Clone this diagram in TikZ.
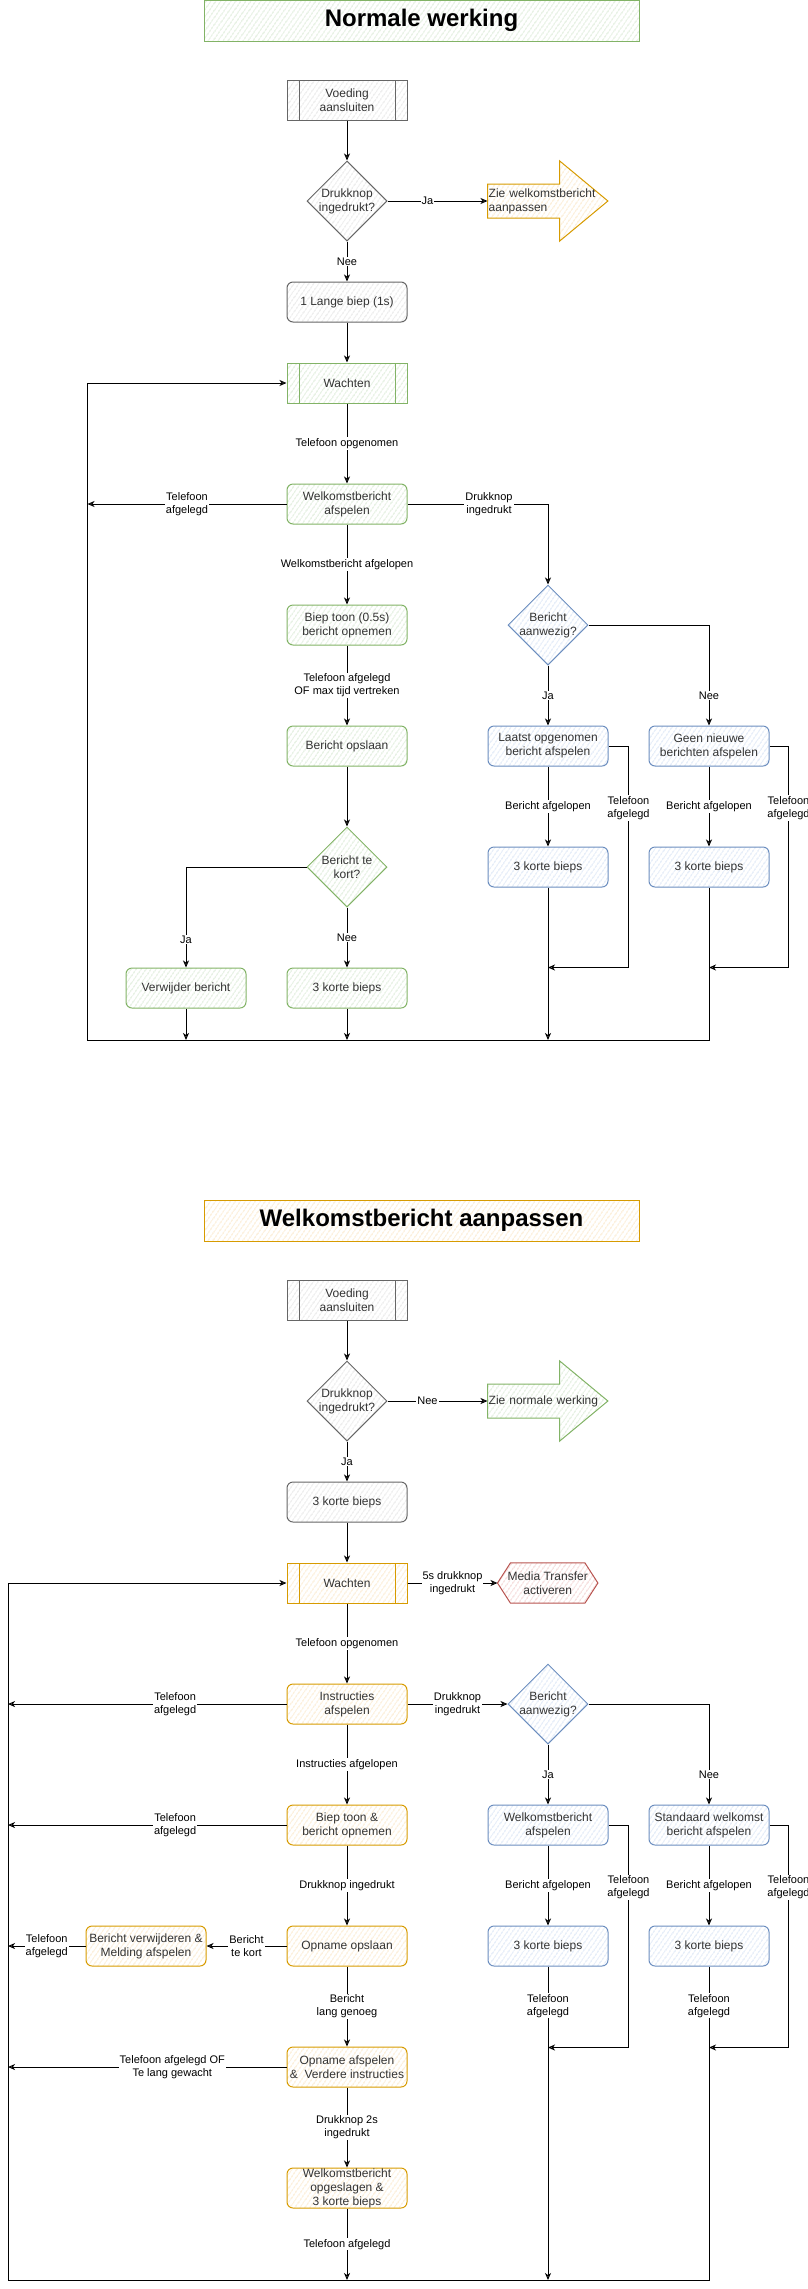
\documentclass[tikz,border=0pt]{standalone}
\usepackage{fontspec}
\setmainfont{Liberation Sans}
\usetikzlibrary{shapes.geometric,arrows.meta,positioning,calc,patterns.meta,backgrounds}

\definecolor{groenlijn}{HTML}{82B366}
\definecolor{groenvul}{HTML}{D5E8D4}
\definecolor{oranjelijn}{HTML}{D79B00}
\definecolor{oranjevul}{HTML}{FFE6CC}
\definecolor{blauwlijn}{HTML}{6C8EBF}
\definecolor{blauwvul}{HTML}{DAE8FC}
\definecolor{roodlijn}{HTML}{B85450}
\definecolor{roodvul}{HTML}{F8CECC}
\definecolor{grijslijn}{HTML}{666666}
\definecolor{grijsvul}{HTML}{E6E6E6}
\definecolor{grijstekst}{HTML}{333333}

\newcommand{\boxfont}{\fontsize{12}{14}\selectfont}
\newcommand{\labfont}{\fontsize{11}{13}\selectfont}
\newcommand{\titelfont}{\fontsize{24}{28}\selectfont\bfseries}

\begin{document}
\begin{tikzpicture}[x=1pt,y=1pt,
  blok/.style={rectangle,rounded corners=6pt,line width=1pt,minimum width=120pt,
               minimum height=40pt,align=center,font=\boxfont,inner sep=2pt,text=grijstekst},
  arcering/.style={pattern={Lines[angle=55,distance=4pt,line width=0.7pt]},pattern color=#1},
  groen/.style={blok,draw=groenlijn,arcering=groenvul!75!groenlijn},
  oranje/.style={blok,draw=oranjelijn,arcering=oranjevul!80!oranjelijn},
  blauw/.style={blok,draw=blauwlijn,arcering=blauwvul!75!blauwlijn},
  grijs/.style={blok,draw=grijslijn,arcering=grijsvul!85!grijslijn},
  proces/.style={sharp corners,path picture={
      \draw[#1,line width=1pt]
        ($(path picture bounding box.north west)+(12pt,0)$) -- ($(path picture bounding box.south west)+(12pt,0)$)
        ($(path picture bounding box.north east)+(-12pt,0)$) -- ($(path picture bounding box.south east)+(-12pt,0)$);}},
  beslis/.style={diamond,minimum width=80pt,minimum height=80pt,inner sep=-6pt,
                 line width=1pt,align=center,font=\boxfont,text=grijstekst},
  titel/.style={rectangle,line width=1pt,minimum width=435pt,minimum height=41pt,font=\titelfont},
  pijltekst/.style={rectangle,minimum width=120pt,minimum height=80pt,text width=118pt,
                    inner sep=1pt,align=left,font=\boxfont,text=grijstekst},
  zeshoek/.style={rectangle,minimum width=100pt,minimum height=40pt,inner sep=0pt,
                  align=center,font=\boxfont,text=grijstekst},
  pijl/.style={-{Stealth[open,length=7pt,width=6pt,inset=2pt]},line width=1pt},
  lab/.style={font=\labfont,fill=white,inner sep=1pt,align=center},
  node distance=40pt and 40pt
]
\useasboundingbox (0,0) rectangle (808,-2289);

% ---- Normale werking
\node[titel,draw=groenlijn,arcering=groenvul!75!groenlijn] (titel1) at (421.5,-20.5) {Normale werking};
\node[grijs,proces=grijslijn] (voed1) at (347,-100) {Voeding\\aansluiten};
\node[beslis,draw=grijslijn,arcering=grijsvul!85!grijslijn,below=of voed1] (knop1) {Drukknop\\ingedrukt?};
\node[pijltekst,right=100pt of knop1] (zie1) {Zie welkomstbericht\\aanpassen};
\node[grijs,below=of knop1] (lange1) {1 Lange biep (1s)};
\node[groen,proces=groenlijn,below=of lange1] (wacht1) {Wachten};
\node[groen,below=80pt of wacht1] (welk1) {Welkomstbericht\\afspelen};
\node[groen,below=80pt of welk1] (biep1) {Biep toon (0.5s)\\bericht opnemen};
\node[groen,below=80pt of biep1] (opsl1) {Bericht opslaan};
\node[beslis,draw=groenlijn,arcering=groenvul!75!groenlijn,below=60pt of opsl1] (kort1) {Bericht te\\kort?};
\node[groen,below=60pt of kort1] (drie1) {3 korte bieps};
\node[groen,left=40pt of drie1] (verw1) {Verwijder bericht};
\node[beslis,draw=blauwlijn,arcering=blauwvul!75!blauwlijn,right=100pt of biep1] (aanw1) {Bericht\\aanwezig?};
\node[blauw,below=60pt of aanw1] (laatst1) {Laatst opgenomen\\bericht afspelen};
\node[blauw,right=40pt of laatst1] (geen1) {Geen nieuwe\\berichten afspelen};
\node[blauw,below=80pt of laatst1] (drieb1) {3 korte bieps};
\node[blauw,below=80pt of geen1] (driec1) {3 korte bieps};

\begin{scope}[on background layer]
\draw[oranjelijn,line width=1pt,arcering=oranjevul!80!oranjelijn] ($(zie1.west)+(0,17)$) -- ($(zie1.west)+(72,17)$)
  -- ($(zie1.north west)+(72,0)$) -- (zie1.east) -- ($(zie1.south west)+(72,0)$)
  -- ($(zie1.west)+(72,-17)$) -- ($(zie1.west)+(0,-17)$) -- cycle;
\end{scope}

\coordinate (hoek1) at (87.5,-1040);
\coordinate (terug1a) at ($(drieb1.south)+(0,-80)$);
\coordinate (terug1b) at ($(driec1.south)+(0,-80)$);

\draw[pijl] (voed1) -- (knop1);
\draw[pijl] (knop1) -- node[lab,pos=0.4]{Ja} (zie1);
\draw[pijl] (knop1) -- node[lab]{Nee} (lange1);
\draw[pijl] (lange1) -- (wacht1);
\draw[pijl] (wacht1) -- node[lab]{Telefoon opgenomen} (welk1);
\draw[pijl] (welk1) -- node[lab]{Telefoon\\afgelegd} (welk1.west -| hoek1);
\draw[pijl] (welk1) -| node[lab,pos=0.29]{Drukknop\\ingedrukt} (aanw1);
\draw[pijl] (welk1) -- node[lab]{Welkomstbericht afgelopen} (biep1);
\draw[pijl] (biep1) -- node[lab]{Telefoon afgelegd\\OF max tijd vertreken} (opsl1);
\draw[pijl] (opsl1) -- (kort1);
\draw[pijl] (kort1) -| node[lab,pos=0.86]{Ja} (verw1);
\draw[pijl] (kort1) -- node[lab]{Nee} (drie1);
\draw[pijl] (aanw1) -- node[lab]{Ja} (laatst1);
\draw[pijl] (aanw1) -| node[lab,pos=0.85]{Nee} (geen1);
\draw[pijl] (laatst1) -- node[lab]{Bericht afgelopen} (drieb1);
\draw[pijl] (geen1) -- node[lab]{Bericht afgelopen} (driec1);
\draw[pijl] (laatst1.east) -- ++(20,0) |- node[lab,pos=0.14]{Telefoon\\afgelegd} (terug1a);
\draw[pijl] (geen1.east) -- ++(19,0) |- node[lab,pos=0.14]{Telefoon\\afgelegd} (terug1b);
\draw[pijl] (verw1) -- (verw1 |- hoek1);
\draw[pijl] (drie1) -- (drie1 |- hoek1);
\draw[pijl] (drieb1) -- (drieb1 |- hoek1);
\draw[pijl] (driec1) |- (hoek1) |- (wacht1);

% ---- Welkomstbericht aanpassen
\node[titel,draw=oranjelijn,arcering=oranjevul!80!oranjelijn] (titel2) at (421.5,-1220.5) {Welkomstbericht aanpassen};
\node[grijs,proces=grijslijn] (voed2) at (347,-1300) {Voeding\\aansluiten};
\node[beslis,draw=grijslijn,arcering=grijsvul!85!grijslijn,below=of voed2] (knop2) {Drukknop\\ingedrukt?};
\node[pijltekst,right=100pt of knop2] (zie2) {Zie normale werking};
\node[grijs,below=of knop2] (drie2) {3 korte bieps};
\node[oranje,proces=oranjelijn,below=of drie2] (wacht2) {Wachten};
\node[zeshoek,right=90pt of wacht2] (media) {Media Transfer\\activeren};
\node[oranje,below=80pt of wacht2] (instr) {Instructies\\afspelen};
\node[beslis,draw=blauwlijn,arcering=blauwvul!75!blauwlijn,right=100pt of instr] (aanw2) {Bericht\\aanwezig?};
\node[blauw,below=60pt of aanw2] (welkb2) {Welkomstbericht\\afspelen};
\node[blauw,right=40pt of welkb2] (stand2) {Standaard welkomst\\bericht afspelen};
\node[blauw,below=80pt of welkb2] (drieb2) {3 korte bieps};
\node[blauw,below=80pt of stand2] (driec2) {3 korte bieps};
\node[oranje,below=80pt of instr] (biep2) {Biep toon \&\\bericht opnemen};
\node[oranje,below=80pt of biep2] (opn2) {Opname opslaan};
\node[oranje,left=80pt of opn2] (verw2) {Bericht verwijderen \&\\Melding afspelen};
\node[oranje,below=80pt of opn2] (afsp2) {Opname afspelen\\\&\ \ Verdere instructies};
\node[oranje,inner ysep=-1pt,below=80pt of afsp2] (opg2) {Welkomstbericht\\opgeslagen \&\\3 korte bieps};

\begin{scope}[on background layer]
\draw[groenlijn,line width=1pt,arcering=groenvul!75!groenlijn] ($(zie2.west)+(0,17)$) -- ($(zie2.west)+(72,17)$)
  -- ($(zie2.north west)+(72,0)$) -- (zie2.east) -- ($(zie2.south west)+(72,0)$)
  -- ($(zie2.west)+(72,-17)$) -- ($(zie2.west)+(0,-17)$) -- cycle;
\draw[roodlijn,line width=1pt,arcering=roodvul!75!roodlijn] (media.west) -- ($(media.north west)+(13,0)$)
  -- ($(media.north east)+(-13,0)$) -- (media.east) -- ($(media.south east)+(-13,0)$)
  -- ($(media.south west)+(13,0)$) -- cycle;
\end{scope}

\coordinate (hoek2) at (8,-2280);
\coordinate (terug2a) at ($(drieb2.south)+(0,-81)$);
\coordinate (terug2b) at ($(driec2.south)+(0,-81)$);

\draw[pijl] (voed2) -- (knop2);
\draw[pijl] (knop2) -- node[lab,pos=0.4]{Nee} (zie2);
\draw[pijl] (knop2) -- node[lab]{Ja} (drie2);
\draw[pijl] (drie2) -- (wacht2);
\draw[pijl] (wacht2) -- node[lab]{5s drukknop\\ingedrukt} (media);
\draw[pijl] (wacht2) -- node[lab]{Telefoon opgenomen} (instr);
\draw[pijl] (instr) -- node[lab,pos=0.4]{Telefoon\\afgelegd} (instr.west -| hoek2);
\draw[pijl] (instr) -- node[lab]{Drukknop\\ingedrukt} (aanw2);
\draw[pijl] (instr) -- node[lab]{Instructies afgelopen} (biep2);
\draw[pijl] (biep2) -- node[lab,pos=0.4]{Telefoon\\afgelegd} (biep2.west -| hoek2);
\draw[pijl] (biep2) -- node[lab]{Drukknop ingedrukt} (opn2);
\draw[pijl] (opn2) -- node[lab]{Bericht\\te kort} (verw2);
\draw[pijl] (verw2) -- node[lab]{Telefoon\\afgelegd} (verw2.west -| hoek2);
\draw[pijl] (opn2) -- node[lab]{Bericht\\lang genoeg} (afsp2);
\draw[pijl] (afsp2) -- node[lab,pos=0.41]{Telefoon afgelegd OF\\Te lang gewacht} (afsp2.west -| hoek2);
\draw[pijl] (afsp2) -- node[lab]{Drukknop 2s\\ingedrukt} (opg2);
\draw[pijl] (opg2) -- node[lab]{Telefoon afgelegd} (opg2 |- hoek2);
\draw[pijl] (aanw2) -- node[lab]{Ja} (welkb2);
\draw[pijl] (aanw2) -| node[lab,pos=0.85]{Nee} (stand2);
\draw[pijl] (welkb2) -- node[lab]{Bericht afgelopen} (drieb2);
\draw[pijl] (stand2) -- node[lab]{Bericht afgelopen} (driec2);
\draw[pijl] (welkb2.east) -- ++(20,0) |- node[lab,pos=0.14]{Telefoon\\afgelegd} (terug2a);
\draw[pijl] (stand2.east) -- ++(19,0) |- node[lab,pos=0.14]{Telefoon\\afgelegd} (terug2b);
\draw[pijl] (drieb2) -- node[lab,pos=0.125]{Telefoon\\afgelegd} (drieb2 |- hoek2);
\draw[pijl] (driec2) -- node[lab,pos=0.125]{Telefoon\\afgelegd} (driec2 |- hoek2) -- (hoek2) |- (wacht2);
\end{tikzpicture}
\end{document}
